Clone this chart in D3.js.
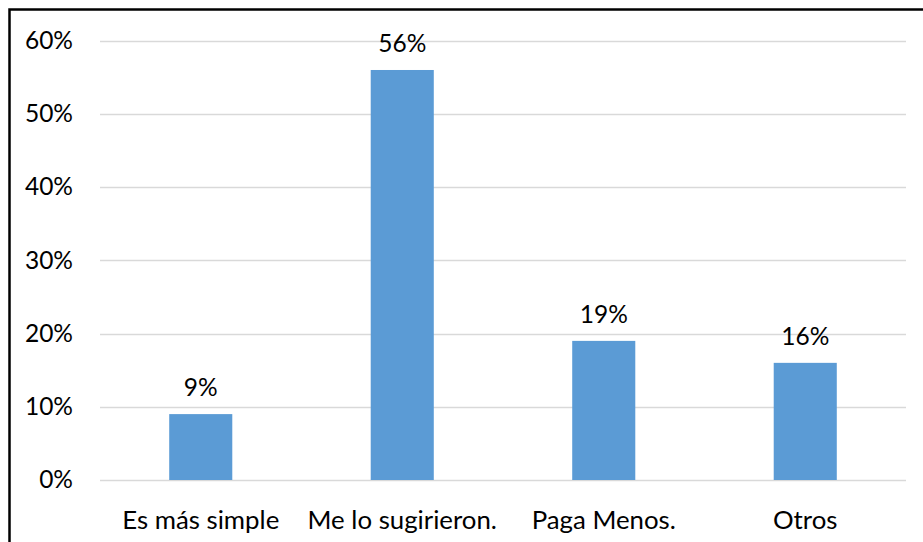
<!DOCTYPE html>
<html>
<head>
<meta charset="utf-8">
<script src="https://cdn.jsdelivr.net/npm/d3@7"></script>
<style>
  html, body { margin: 0; padding: 0; background: #fff; }
  svg { display: block; }
  text { font-family: Lato, "Open Sans", sans-serif; fill: #000; }
</style>
</head>
<body>
<svg id="chart" width="923" height="542"></svg>
<script>
const categories = ["Es más simple", "Me lo sugirieron.", "Paga Menos.", "Otros"];
const values = [0.09, 0.56, 0.19, 0.16];
const valueLabels = ["9%", "56%", "19%", "16%"];
const yTicks = [0, 0.1, 0.2, 0.3, 0.4, 0.5, 0.6];

const svg = d3.select("#chart");
const W = 923, H = 542;
const plot = { left: 100, right: 906, top: 40.7, bottom: 480 };

svg.append("rect").attr("width", W).attr("height", H).attr("fill", "#fff");

const x = d3.scaleBand()
  .domain(categories)
  .range([plot.left, plot.right])
  .paddingInner(0.687)
  .paddingOuter(0.3435);

const y = d3.scaleLinear()
  .domain([0, 0.6])
  .range([plot.bottom, plot.top]);

// gridlines
svg.append("g")
  .selectAll("line")
  .data(yTicks)
  .join("line")
  .attr("x1", plot.left)
  .attr("x2", plot.right)
  .attr("y1", d => Math.round(y(d)) + 0.5)
  .attr("y2", d => Math.round(y(d)) + 0.5)
  .attr("stroke", "#d9d9d9")
  .attr("stroke-width", 1.5);

// y axis labels
const yAxis = d3.axisLeft(y).tickValues(yTicks).tickFormat(d3.format(".0%")).tickSize(0).tickPadding(0);
const yg = svg.append("g").attr("transform", `translate(73,0)`).call(yAxis);
yg.select(".domain").remove();
yg.selectAll("text")
  .attr("font-size", "24.5px")
  .attr("font-family", "Lato, 'Open Sans', sans-serif")
  .attr("fill", "#000");

// bars
svg.append("g")
  .selectAll("rect")
  .data(values)
  .join("rect")
  .attr("x", (d, i) => x(categories[i]))
  .attr("width", x.bandwidth())
  .attr("y", d => y(d))
  .attr("height", d => y(0) - y(d))
  .attr("fill", "#5b9bd5");

// value labels
svg.append("g")
  .selectAll("text")
  .data(values)
  .join("text")
  .attr("x", (d, i) => x(categories[i]) + x.bandwidth() / 2)
  .attr("y", d => y(d) - 18)
  .attr("text-anchor", "middle")
  .attr("font-size", "24.5px")
  .text((d, i) => valueLabels[i]);

// x axis labels
const xAxis = d3.axisBottom(x).tickSize(0).tickPadding(0);
const xg = svg.append("g").attr("transform", `translate(0,${plot.bottom})`).call(xAxis);
xg.select(".domain").remove();
xg.selectAll("text")
  .attr("dy", null)
  .attr("y", 49)
  .attr("font-size", "25.8px")
  .attr("font-family", "Lato, 'Open Sans', sans-serif")
  .attr("fill", "#000");

// frame (top and left edges visible)
svg.append("rect")
  .attr("x", 9.5).attr("y", 9.5)
  .attr("width", W + 20).attr("height", H + 20)
  .attr("fill", "none")
  .attr("stroke", "#000")
  .attr("stroke-width", 2.5);
</script>
</body>
</html>
